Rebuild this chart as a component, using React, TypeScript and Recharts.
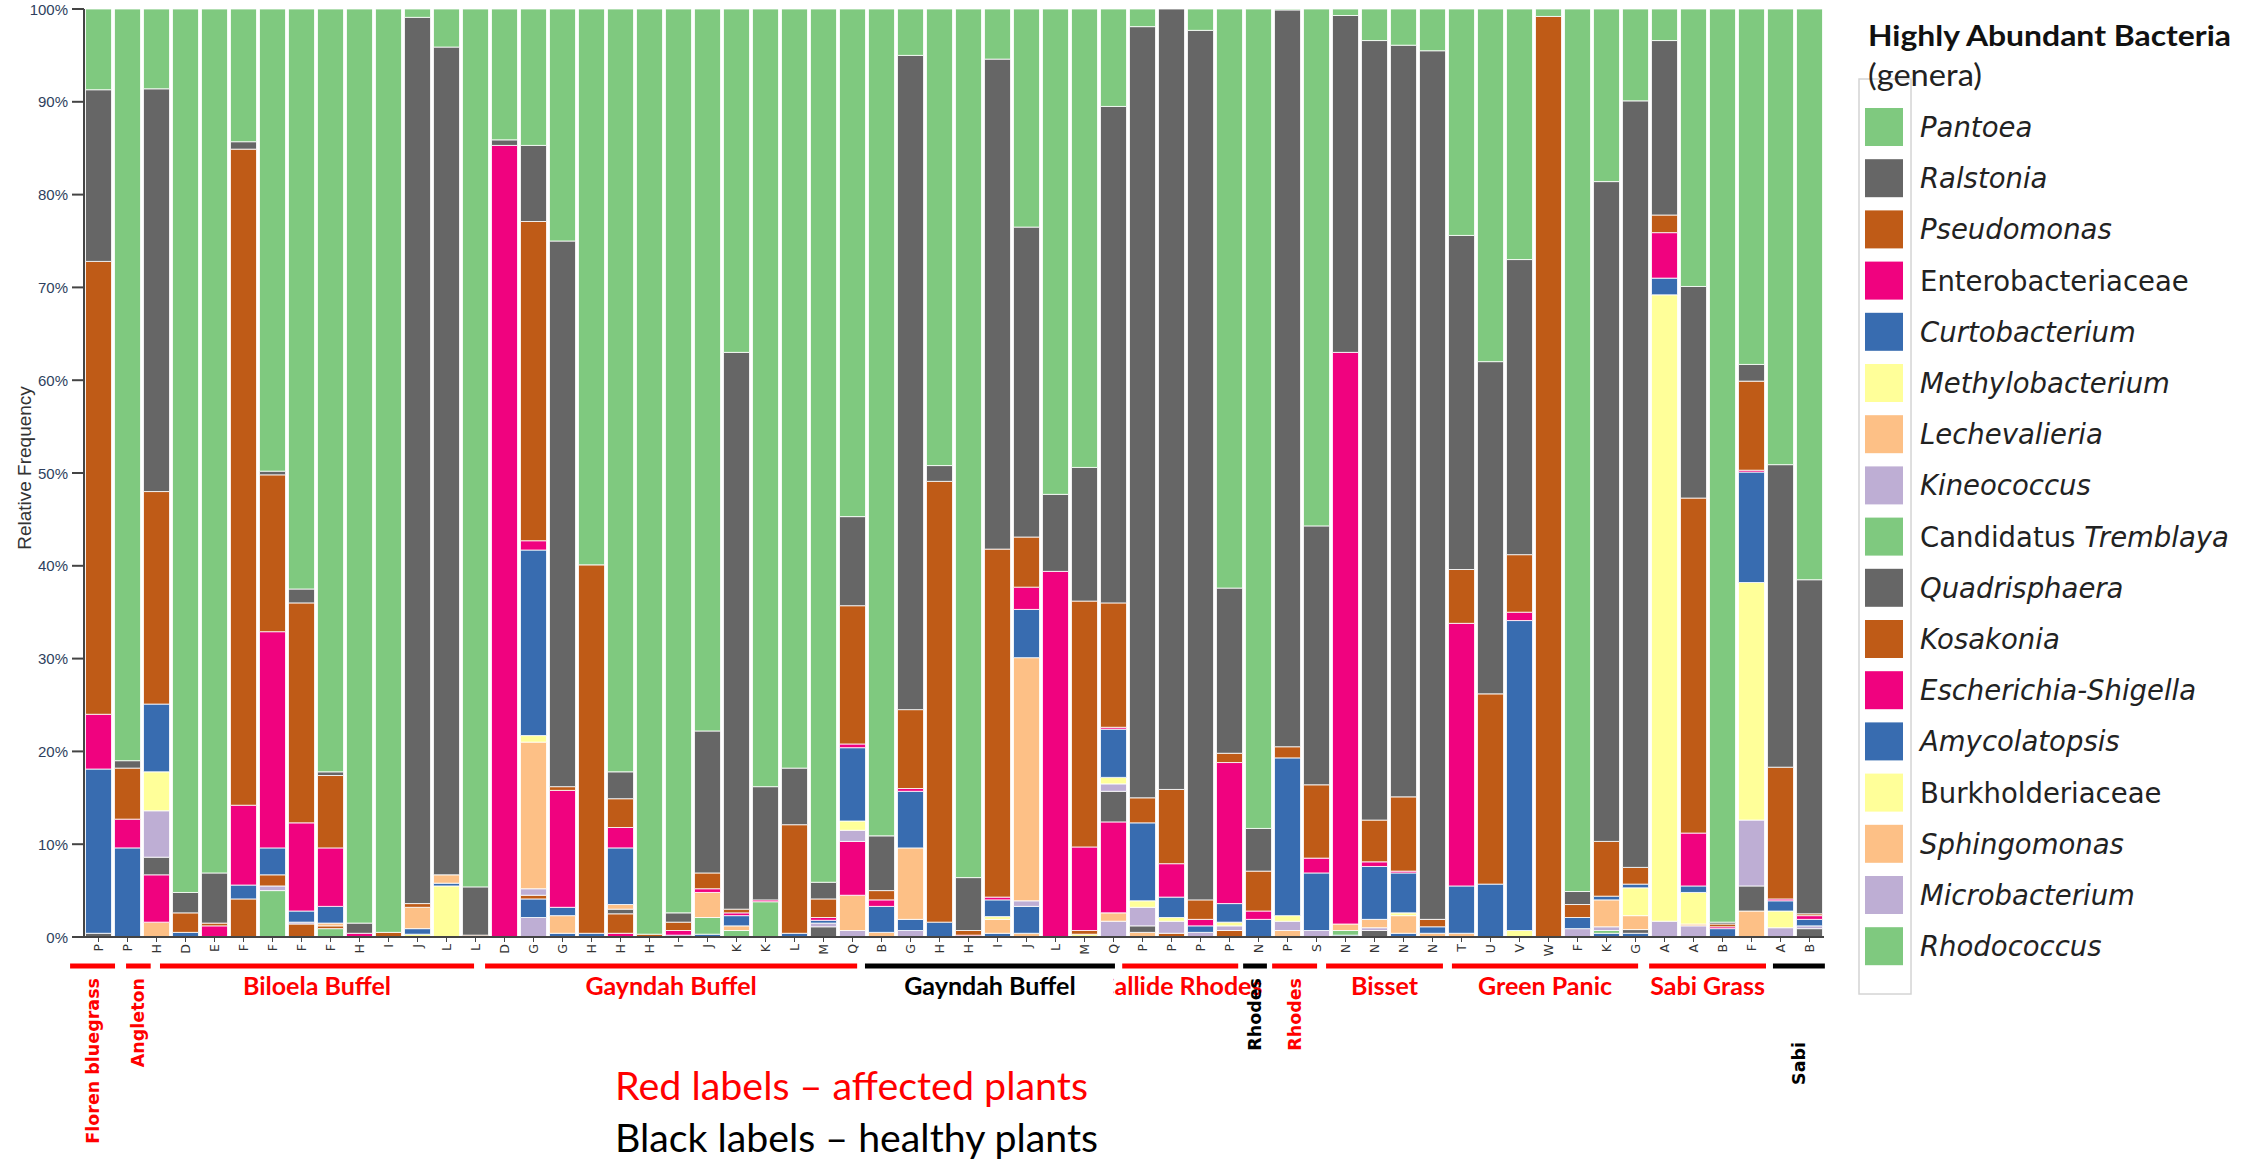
import React from 'react';
import { BarChart, Bar, XAxis, YAxis } from 'recharts';

// ---------- categories (sample tick labels) ----------
const sampleLabels = [
  'P', 'P', 'H', 'D', 'E', 'F', 'F', 'F', 'F', 'H',
  'I', 'J', 'L', 'L', 'D', 'G', 'G', 'H', 'H', 'H',
  'I', 'J', 'K', 'K', 'L', 'M', 'Q', 'B', 'G', 'H',
  'H', 'I', 'J', 'L', 'M', 'Q', 'P', 'P', 'P', 'P',
  'N', 'P', 'S', 'N', 'N', 'N', 'N', 'T', 'U', 'V',
  'W', 'F', 'K', 'G', 'A', 'A', 'B', 'F', 'A', 'B',
];

// ---------- series values (% relative frequency, bottom of stack first) ----------
const rhodococcus = [
  0, 0, 0, 0, 0, 0, 5.0, 0, 0.9, 0,
  0, 0, 0, 0, 0, 0, 0, 0, 0, 0,
  0, 0, 0.7, 0, 0, 0, 0, 0, 0, 0,
  0, 0, 0, 0, 0, 0, 0, 0, 0, 0,
  0, 0, 0, 0, 0, 0, 0, 0, 0, 0,
  0, 0, 0, 0, 0, 0, 0, 0, 0, 0,
];
const microbacterium = [
  0, 0, 0, 0, 0, 0, 0.5, 0, 0, 0,
  0, 0, 0, 0, 0, 2.1, 0, 0, 0, 0,
  0, 0, 0, 0, 0, 0, 0.7, 0, 0.7, 0,
  0, 0, 0, 0, 0, 1.7, 0, 0, 0, 0,
  0, 0, 0.7, 0, 0, 0, 0, 0, 0, 0,
  0, 0.9, 0, 0, 0, 0, 0, 0, 0, 0,
];
const sphingomonas = [
  0, 0, 1.6, 0, 0, 0, 0, 0, 0, 0,
  0, 0, 0, 0, 0, 0, 0, 0, 0, 0,
  0, 0, 0.5, 0, 0, 0, 3.8, 0.5, 0, 0,
  0, 0, 0.4, 0, 0, 0.9, 0.5, 0, 0, 0,
  0, 0.7, 0, 0, 0, 0, 0.4, 0.4, 0, 0,
  0, 0, 0, 0, 0, 0, 0, 2.8, 0, 0,
];
const burkholderiaceae = [
  0, 0, 0, 0, 0, 0, 0, 0, 0, 0,
  0, 0.3, 5.5, 0, 0, 0, 0, 0, 0, 0,
  0, 0, 0, 0, 0, 0, 0, 0, 0, 0,
  0, 0, 0, 0, 0.3, 0, 0, 0, 0, 0,
  0, 0, 0, 0, 0, 0, 0, 0, 0, 0,
  0, 0, 0, 0, 0, 0, 0, 0, 0, 0,
];
const amycolatopsis = [
  0, 0, 0, 0, 0, 0, 0, 0, 0, 0,
  0, 0.6, 0.3, 0, 0, 2.0, 0.4, 0, 0, 0,
  0, 0.3, 1.1, 0, 0, 0, 0, 0, 1.2, 0,
  0, 0.4, 2.9, 0, 0, 0, 0, 0, 0, 0,
  0, 0, 0, 0.2, 0, 0.4, 0, 0, 0, 0,
  0, 0, 0.4, 0.4, 0, 0, 0, 0, 0, 0,
];
const escherichiaShigella = [
  0, 0, 5.1, 0, 0, 0, 0, 0, 0, 0,
  0, 0, 0, 0, 0, 0, 0, 0, 0.4, 0,
  0, 0, 0.3, 0, 0, 0, 5.8, 0, 0, 0,
  0, 0, 0, 0, 0, 9.8, 0, 0, 0, 0,
  0, 0, 0, 0, 0, 0, 0, 0, 0, 0,
  0, 0, 0, 0, 0, 0, 0, 0, 0, 0,
];
const kosakonia = [
  0, 0, 0, 0, 0, 4.1, 1.2, 1.4, 0.3, 0,
  0, 0, 0, 0, 0, 0.4, 0, 0, 2.1, 0,
  0, 0, 0.4, 0, 0, 0, 0, 0, 0, 0,
  0, 0, 0, 0, 0.4, 0, 0, 0.4, 0, 0.7,
  0, 0, 0, 0, 0, 0, 0, 0, 0, 0,
  0, 0, 0, 0, 0, 0, 0, 0, 0, 0,
];
const quadrisphaera = [
  0.4, 0, 1.9, 0, 0, 0, 0, 0, 0, 0,
  0, 0, 0, 0, 0, 0, 0, 0, 0.5, 0,
  0, 0, 0, 0, 0, 1.1, 0, 0, 0, 0,
  0, 0, 0, 0, 0, 3.3, 0.7, 0, 0, 0,
  0, 0, 0, 0, 0.7, 0, 0, 0, 0, 0,
  0, 0, 0, 0.4, 0, 0, 0, 2.7, 0, 0.9,
];
const candidatusTremblaya = [
  0, 0, 0, 0, 0, 0, 0, 0, 0, 0,
  0, 0, 0, 0, 0, 0, 0, 0, 0, 0,
  0, 1.8, 0, 3.8, 0, 0, 0, 0, 0, 0,
  0, 0, 0, 0, 0, 0, 0, 0, 0, 0,
  0, 0, 0, 0.5, 0, 0, 0, 0, 0, 0,
  0, 0, 0.3, 0, 0, 0, 0, 0, 0, 0,
];
const kineococcus = [
  0, 0, 5.0, 0, 0, 0, 0, 0.2, 0, 0,
  0, 0, 0, 0, 0, 0.7, 0, 0, 0, 0,
  0, 0, 0, 0, 0, 0.4, 1.2, 0, 0, 0,
  0, 0, 0.6, 0, 0, 0.8, 2.0, 1.3, 0.5, 0.5,
  0, 1.0, 0, 0, 0.3, 0, 0, 0, 0, 0,
  0, 0, 0.4, 0, 1.7, 1.2, 0, 7.1, 1.0, 0.3,
];
const lechevalieria = [
  0, 0, 0, 0, 0, 0, 0, 0, 0.3, 0,
  0, 2.3, 0.9, 0, 0, 15.8, 1.9, 0, 0.5, 0,
  0, 2.7, 0, 0, 0, 0, 0, 0, 7.7, 0,
  0, 1.5, 26.2, 0, 0, 0, 0, 0, 0, 0,
  0, 0, 0, 0.7, 0.9, 1.9, 0, 0, 0, 0,
  0, 0, 2.9, 1.5, 0, 0.2, 0, 0, 0, 0,
];
const methylobacterium = [
  0, 0, 4.2, 0, 0, 0, 0, 0, 0, 0,
  0, 0, 0, 0, 0, 0.7, 0, 0, 0, 0,
  0, 0, 0, 0, 0, 0, 1.0, 0, 0, 0,
  0, 0.3, 0, 0, 0, 0.7, 0.7, 0.4, 0, 0.4,
  0, 0.6, 0, 0, 0, 0.3, 0, 0, 0, 0.7,
  0, 0, 0, 3.0, 67.5, 3.4, 0, 25.6, 1.8, 0,
];
const curtobacterium = [
  17.7, 9.6, 7.3, 0.5, 0, 1.5, 2.9, 1.2, 1.8, 0,
  0, 0, 0, 0, 0, 20.0, 0.9, 0.4, 6.1, 0,
  0.2, 0, 0, 0, 0.4, 0.3, 7.9, 2.8, 6.1, 1.6,
  0, 1.8, 5.2, 0, 0, 5.2, 8.4, 2.2, 0.7, 2.0,
  1.9, 17.0, 6.2, 0, 5.7, 4.3, 0.7, 5.1, 5.7, 33.4,
  0, 1.2, 0.4, 0.4, 1.8, 0.7, 0.9, 11.9, 1.1, 0.7,
];
const enterobacteriaceae = [
  5.9, 3.1, 0, 0, 1.2, 8.6, 23.3, 9.5, 6.3, 0.4,
  0, 0, 0, 0, 85.3, 1.0, 12.6, 0, 2.2, 0,
  0.5, 0.4, 0, 0.2, 0, 0.3, 0.4, 0.7, 0.3, 0,
  0.2, 0.3, 2.4, 39.4, 9.0, 0.2, 0, 3.6, 0.7, 15.2,
  0.9, 0, 1.6, 61.6, 0.5, 0.2, 0, 28.3, 0, 0.9,
  0, 0, 0, 0, 4.9, 5.7, 0.2, 0.2, 0.2, 0.4,
];
const pseudomonas = [
  48.8, 5.5, 22.9, 2.1, 0.3, 70.7, 16.9, 23.7, 7.8, 0,
  0.5, 0.4, 0, 0.2, 0, 34.4, 0.4, 39.7, 3.1, 0.3,
  0.9, 1.7, 0, 0, 11.7, 2.0, 14.9, 1.0, 8.5, 47.5,
  0.5, 37.5, 5.4, 0, 26.5, 13.4, 2.7, 8.0, 2.1, 1.0,
  4.3, 1.2, 7.9, 0, 4.5, 8.0, 0.8, 5.8, 20.5, 6.2,
  99.2, 1.4, 5.9, 1.8, 1.9, 36.1, 0.3, 9.6, 14.2, 0.2,
];
const ralstonia = [
  18.5, 0.8, 43.4, 2.2, 5.4, 0.8, 0.4, 1.5, 0.4, 1.1,
  0, 95.5, 89.2, 5.2, 0.6, 8.2, 58.8, 0, 2.9, 0,
  1.0, 15.3, 60.0, 12.2, 6.1, 1.8, 9.6, 5.9, 70.5, 1.7,
  5.7, 52.8, 33.4, 8.3, 14.4, 53.5, 83.1, 84.1, 93.7, 17.8,
  4.6, 79.4, 27.9, 36.3, 84.0, 81.0, 93.6, 36.0, 35.8, 31.8,
  0, 1.4, 71.1, 82.6, 18.8, 22.8, 0.2, 1.8, 32.6, 36.0,
];
const pantoea = [
  8.7, 81.0, 8.6, 95.2, 93.1, 14.3, 49.8, 62.5, 82.2, 98.5,
  99.5, 0.9, 4.1, 94.6, 14.1, 14.7, 25.0, 59.9, 82.2, 99.7,
  97.4, 77.8, 37.0, 83.8, 81.8, 94.1, 54.7, 89.1, 5.0, 49.2,
  93.6, 5.4, 23.5, 52.3, 49.4, 10.5, 1.9, 0, 2.3, 62.4,
  88.3, 0.1, 55.7, 0.7, 3.4, 3.9, 4.5, 24.4, 38.0, 27.0,
  0.8, 95.1, 18.6, 9.9, 3.4, 29.9, 98.4, 38.3, 49.1, 61.5,
];

// stack order, bottom first
const seriesValues = [
  rhodococcus, microbacterium, sphingomonas, burkholderiaceae, amycolatopsis,
  escherichiaShigella, kosakonia, quadrisphaera, candidatusTremblaya, kineococcus,
  lechevalieria, methylobacterium, curtobacterium, enterobacteriaceae, pseudomonas,
  ralstonia, pantoea,
];
const seriesNames = [
  'Rhodococcus', 'Microbacterium', 'Sphingomonas', 'Burkholderiaceae', 'Amycolatopsis',
  'Escherichia-Shigella', 'Kosakonia', 'Quadrisphaera', 'Candidatus Tremblaya', 'Kineococcus',
  'Lechevalieria', 'Methylobacterium', 'Curtobacterium', 'Enterobacteriaceae', 'Pseudomonas',
  'Ralstonia', 'Pantoea',
];
// legend text pieces: [text, italic]
const seriesLegendParts: [string, boolean][][] = [
  [['Rhodococcus', true]], [['Microbacterium', true]], [['Sphingomonas', true]],
  [['Burkholderiaceae', false]], [['Amycolatopsis', true]], [['Escherichia-Shigella', true]],
  [['Kosakonia', true]], [['Quadrisphaera', true]], [['Candidatus ', false], ['Tremblaya', true]],
  [['Kineococcus', true]], [['Lechevalieria', true]], [['Methylobacterium', true]],
  [['Curtobacterium', true]], [['Enterobacteriaceae', false]], [['Pseudomonas', true]],
  [['Ralstonia', true]], [['Pantoea', true]],
];
const GREEN = '#7fc97f', LAV = '#beaed4', PEACH = '#fdc086', YEL = '#ffff99';
const BLUE = '#386cb0', MAG = '#f0027f', BROWN = '#bf5b17', GREY = '#666666';
const seriesColors = [
  GREEN, LAV, PEACH, YEL, BLUE, MAG, BROWN, GREY,
  GREEN, LAV, PEACH, YEL, BLUE, MAG, BROWN, GREY, GREEN,
];

// ---------- sample groups (in category units) ----------
const groupNames = ['Floren bluegrass', 'Angleton', 'Biloela Buffel', 'Gayndah Buffel', 'Gayndah Buffel',
  'Callide Rhodes', 'Rhodes', 'Rhodes', 'Bisset', 'Green Panic', 'Sabi Grass', 'Sabi'];
const groupFrom = [-0.98, 0.95, 2.12, 13.33, 26.43, 35.3, 39.47, 40.47, 42.33, 46.67, 53.47, 57.74];
const groupTo = [0.57, 1.8, 12.95, 26.16, 35.05, 39.3, 40.29, 42.02, 46.36, 53.09, 57.5, 59.53];
const groupAffected = [true, true, true, true, false, true, false, true, true, true, true, false];
const groupVertical = [true, true, false, false, false, false, true, true, false, false, false, true];

const yTicks = [0, 0.1, 0.2, 0.3, 0.4, 0.5, 0.6, 0.7, 0.8, 0.9, 1];

// ---------- layout ----------
const W = 2260, H = 1162;
const PLOT_LEFT = 84, PLOT_RIGHT = 1824, PLOT_TOP = 9, PLOT_BOTTOM = 937;
const N = sampleLabels.length;
const BAND = (PLOT_RIGHT - PLOT_LEFT) / N;

const seriesKeys = seriesNames.map((_, i) => `s${i}`);
const data = sampleLabels.map((label, i) => {
  const row: Record<string, any> = { id: `b${i}`, label };
  seriesKeys.forEach((k, j) => { row[k] = seriesValues[j][i]; });
  return row;
});

const YTick = (props: any) => {
  const { x, y, payload } = props;
  return (
    <text x={x - 2} y={y} textAnchor="end" dominantBaseline="central"
      fontFamily="'Liberation Sans', Arial, sans-serif" fontSize={15} fill="#2e3f5e">
      {`${Math.round(payload.value * 100)}%`}
    </text>
  );
};

const XTick = (props: any) => {
  const { x, payload } = props;
  const index = props.index ?? payload.index ?? 0;
  const ly = PLOT_BOTTOM + 7;
  const letter = (
    <text x={x} y={ly} transform={`rotate(-90, ${x}, ${ly})`} textAnchor="end" dominantBaseline="central"
      fontFamily="'DejaVu Sans', sans-serif" fontSize={12.5} fill="#333">
      {sampleLabels[index]}
    </text>
  );
  if (index !== 0) return <g>{letter}</g>;
  const xAt = (c: number) => x + c * BAND;
  const lineY = 966;
  return (
    <g>
      {letter}
      <defs>
        <clipPath id="callideClip">
          <rect x={xAt(35.0)} y={960} width={300} height={80} />
        </clipPath>
      </defs>
      {groupNames.map((name, g) => {
        const color = groupAffected[g] ? '#ff0000' : '#000000';
        const x1 = xAt(groupFrom[g]);
        const x2 = xAt(groupTo[g]);
        const cx = (x1 + x2) / 2;
        let label;
        if (groupVertical[g]) {
          const top = name === 'Sabi' ? 1042 : 978;
          label = (
            <text x={cx} y={top} transform={`rotate(-90, ${cx}, ${top})`} textAnchor="end"
              dominantBaseline="central" fontFamily="'DejaVu Sans', sans-serif" fontWeight="bold"
              fontSize={17.5} fill={color}>{name}</text>
          );
        } else {
          label = (
            <text x={cx} y={995} textAnchor="middle" fontFamily="Lato, sans-serif" fontWeight="bold"
              fontSize={25} fill={color} clipPath={name === 'Callide Rhodes' ? 'url(#callideClip)' : undefined}>
              {name}
            </text>
          );
        }
        return (
          <g key={g}>
            <rect x={x1} y={lineY - 2.5} width={x2 - x1} height={5} fill={color} />
            {label}
          </g>
        );
      })}
    </g>
  );
};

const legendTopDown = seriesNames.map((_, i) => seriesNames.length - 1 - i);

export default function App() {
  return (
    <div style={{ position: 'absolute', left: 0, top: 0, width: W, height: H, background: '#fff' }}>
      <BarChart
        width={W}
        height={H}
        data={data}
        stackOffset="expand"
        barCategoryGap={1.5}
        margin={{ top: PLOT_TOP, right: W - PLOT_RIGHT, bottom: H - PLOT_BOTTOM - 30, left: 0 }}
      >
        <XAxis dataKey="id" interval={0} height={30} tick={<XTick />} tickSize={5}
          tickLine={{ stroke: '#444' }} axisLine={{ stroke: '#444', strokeWidth: 2 }} />
        <YAxis type="number" domain={[0, 1]} ticks={yTicks} width={PLOT_LEFT} tick={<YTick />}
          tickSize={12} tickLine={{ stroke: '#444', strokeWidth: 2 }} axisLine={{ stroke: '#444', strokeWidth: 2 }} />
        {seriesKeys.map((k, i) => (
          <Bar key={k} dataKey={k} name={seriesNames[i]} stackId="a" fill={seriesColors[i]}
            stroke="#ffffff" strokeWidth={0.8} isAnimationActive={false} />
        ))}
      </BarChart>
      <svg width={W} height={H} style={{ position: 'absolute', left: 0, top: 0, pointerEvents: 'none' }}>
        <text x={24} y={468} transform="rotate(-90, 24, 468)" textAnchor="middle" dominantBaseline="central"
          fontFamily="'Liberation Sans', Arial, sans-serif" fontSize={19} fill="#333">Relative Frequency</text>
        {/* legend */}
        <text x={1868} y={46} fontFamily="Lato, sans-serif" fontWeight="bold" fontSize={28} fill="#111"
          textLength={363} lengthAdjust="spacingAndGlyphs">
          Highly Abundant Bacteria
        </text>
        <rect x={1859} y={79} width={52} height={915} fill="none" stroke="#d4d4d4" strokeWidth={1.5} />
        <text x={1868} y={86} fontFamily="Lato, sans-serif" fontSize={30} fill="#222"
          textLength={114} lengthAdjust="spacingAndGlyphs">(genera)</text>
        {legendTopDown.map((si, k) => {
          const cy = 127 + 51.2 * k;
          return (
            <g key={si}>
              <rect x={1865} y={cy - 19} width={38} height={38} fill={seriesColors[si]} />
              <text x={1920} y={cy} dominantBaseline="central" fontFamily="'DejaVu Sans', sans-serif"
                fontSize={27.5} fill="#222">
                {seriesLegendParts[si].map(([t, it], j) => (
                  <tspan key={j} fontStyle={it ? 'italic' : 'normal'}>{t}</tspan>
                ))}
              </text>
            </g>
          );
        })}
        {/* notes */}
        <text x={615} y={1100} fontFamily="Lato, sans-serif" fontSize={38} fill="#ff0000"
          textLength={473} lengthAdjust="spacingAndGlyphs">
          Red labels – affected plants
        </text>
        <text x={615} y={1152} fontFamily="Lato, sans-serif" fontSize={38} fill="#000"
          textLength={483} lengthAdjust="spacingAndGlyphs">
          Black labels – healthy plants
        </text>
      </svg>
    </div>
  );
}
